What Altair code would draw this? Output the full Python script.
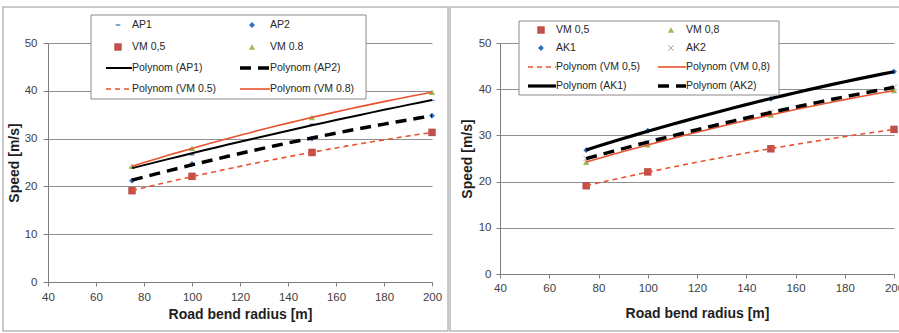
import altair as alt
import pandas as pd

# ---- data -------------------------------------------------------------
radius = [75, 100, 150, 200]

ap1 = [24.0, 26.6, 33.0, 38.0]
ap2 = [21.2, 24.7, 30.0, 34.8]
vm05 = [19.1, 22.1, 27.1, 31.3]
vm08 = [24.2, 28.0, 34.4, 39.7]
ak1 = [26.8, 31.0, 37.9, 43.8]
ak2 = [25.0, 28.5, 35.0, 40.4]

x_ticks = [40, 60, 80, 100, 120, 140, 160, 180, 200]
y_ticks = [0, 10, 20, 30, 40, 50]

x_title = "Road bend radius [m]"
y_title = "Speed [m/s]"

FONT = "Liberation Sans"
BLUE = "#2f6fba"
LIGHT_BLUE = "#4f81bd"
RED = "#c0504d"
GREEN = "#9bbb59"
GREY_X = "#a4a4bc"
TREND_RED = "#e8532f"

# marker styles per series
MARKERS = {
    "AP1": dict(shape="M-1,-0.3L1,-0.3L1,0.3L-1,0.3Z", filled=True, size=22, color=LIGHT_BLUE, opacity=1),
    "AP2": dict(shape="diamond", filled=True, size=34, color=BLUE, opacity=1),
    "AK1": dict(shape="diamond", filled=True, size=34, color=BLUE, opacity=1),
    "AK2": dict(shape="M-1,-1L1,1M-1,1L1,-1", filled=False, size=32, strokeWidth=1, color=GREY_X, opacity=1),
    "VM05": dict(shape="square", filled=True, size=56, color=RED, opacity=1),
    "VM08": dict(shape="triangle-up", filled=True, size=40, color=GREEN, opacity=1),
}

# trend line styles per series
LINES = {
    "AP1": dict(color="black", strokeWidth=2),
    "AP2": dict(color="black", strokeWidth=3.5, strokeDash=[11, 7]),
    "AK1": dict(color="black", strokeWidth=3.2),
    "AK2": dict(color="black", strokeWidth=3.5, strokeDash=[11, 7]),
    "VM05": dict(color=TREND_RED, strokeWidth=1.6, strokeDash=[5, 4]),
    "VM08": dict(color=TREND_RED, strokeWidth=1.6),
}


def one_row(**kw):
    return pd.DataFrame({k: [v] for k, v in kw.items()})


def panel(series, legend_rows, geom):
    w, h = geom["w"], geom["h"]
    df = pd.DataFrame({
        "radius": [r for _ in series for r in radius],
        "speed": [v for _, vals in series for v in vals],
        "series": [name for name, vals in series for _ in vals],
    })

    x_enc = alt.X(
        "radius:Q",
        scale=alt.Scale(domain=[40, 200], nice=False, zero=False),
        axis=alt.Axis(values=x_ticks, title=x_title, grid=False, labelFlush=False,
                      tickSize=4, labelPadding=geom["xlp"], titlePadding=geom["xtp"]),
    )
    y_enc = alt.Y(
        "speed:Q",
        scale=alt.Scale(domain=[0, 50], nice=False),
        axis=alt.Axis(values=y_ticks, title=y_title, grid=True, labelFlush=False,
                      tickSize=geom["yts"], labelPadding=geom["ylp"], titlePadding=geom["ytp"]),
    )

    layers = []
    fx0, fx1, fy0, fy1 = geom["frame"]
    layers.append(
        alt.Chart(one_row(k=0)).mark_rect(fill="transparent", stroke="#b9b9b9", strokeWidth=1.5)
        .encode(x=alt.value(fx0), x2=alt.value(fx1), y=alt.value(fy0), y2=alt.value(fy1))
    )

    base = alt.Chart(df)
    for name, _ in series:
        layers.append(
            base.transform_filter(alt.datum.series == name)
            .mark_point(**MARKERS[name]).encode(x=x_enc, y=y_enc)
        )
    for name, _ in series:
        layers.append(
            base.transform_filter(alt.datum.series == name)
            .transform_regression("radius", "speed", method="poly", order=2, extent=[75, 200])
            .mark_line(**LINES[name]).encode(x=x_enc, y=y_enc)
        )

    # legend box
    lx0, lx1, ly0, ly1 = geom["legend_box"]
    layers.append(
        alt.Chart(one_row(k=0)).mark_rect(fill="white", stroke="#8a8a8a", strokeWidth=1)
        .encode(x=alt.value(lx0), x2=alt.value(lx1), y=alt.value(ly0), y2=alt.value(ly1))
    )
    rows_y = geom["rows_y"]
    for ri, row in enumerate(legend_rows):
        for ci, (kind, name, label) in enumerate(row):
            col = geom["cols"][ci]
            yy = rows_y[ri]
            if kind == "marker":
                layers.append(
                    alt.Chart(one_row(k=0)).mark_point(**MARKERS[name])
                    .encode(x=alt.value(col["sym"]), y=alt.value(yy))
                )
            else:
                layers.append(
                    alt.Chart(one_row(k=0)).mark_rule(**LINES[name])
                    .encode(x=alt.value(col["l0"]), x2=alt.value(col["text"]), y=alt.value(yy))
                )
            layers.append(
                alt.Chart(one_row(label=label))
                .mark_text(align="left", baseline="middle", font=FONT, fontSize=10.5, color="#262626")
                .encode(x=alt.value(col["text"]), y=alt.value(yy), text="label:N")
            )

    return alt.layer(*layers).properties(width=w, height=h)


left_geom = dict(
    w=384, h=239, xlp=5, xtp=5, yts=5, ylp=6, ytp=3,
    frame=(-45, 400, -36, 288),
    legend_box=(43, 318, -28, 56),
    rows_y=[-18, 4, 25, 46],
    cols=[dict(sym=70, text=84, l0=58), dict(sym=204, text=222, l0=192)],
)
right_geom = dict(
    w=394, h=231, xlp=4, xtp=13, yts=4, ylp=5, ytp=4,
    frame=(-50, 412, -36, 288),
    legend_box=(19, 279, -22, 52),
    rows_y=[-13, 5, 24, 43],
    cols=[dict(sym=41, text=56, l0=28), dict(sym=171, text=186, l0=158)],
)

left = panel(
    [("AP1", ap1), ("AP2", ap2), ("VM05", vm05), ("VM08", vm08)],
    [
        [("marker", "AP1", "AP1"), ("marker", "AP2", "AP2")],
        [("marker", "VM05", "VM 0,5"), ("marker", "VM08", "VM 0.8")],
        [("line", "AP1", "Polynom (AP1)"), ("line", "AP2", "Polynom (AP2)")],
        [("line", "VM05", "Polynom (VM 0.5)"), ("line", "VM08", "Polynom (VM 0.8)")],
    ],
    left_geom,
)

right = panel(
    [("VM05", vm05), ("VM08", vm08), ("AK1", ak1), ("AK2", ak2)],
    [
        [("marker", "VM05", "VM 0,5"), ("marker", "VM08", "VM 0,8")],
        [("marker", "AK1", "AK1"), ("marker", "AK2", "AK2")],
        [("line", "VM05", "Polynom (VM 0,5)"), ("line", "VM08", "Polynom (VM 0,8)")],
        [("line", "AK1", "Polynom (AK1)"), ("line", "AK2", "Polynom (AK2)")],
    ],
    right_geom,
)

# fixed 899x333 canvas: the plot origin of the first panel sits at the
# padding corner, and the right panel runs past the edge and is cut off
chart = (
    alt.hconcat(left, right, spacing=0)
    .properties(
        autosize=alt.AutoSizeParams(type="none"),
        padding={"left": 48, "top": 43, "right": 851, "bottom": 290},
        background="white",
    )
    .configure_view(strokeWidth=0)
    .configure_axis(
        domainColor="#7f7f7f", domainWidth=1,
        tickColor="#7f7f7f", tickWidth=1,
        gridColor="#8f8f8f", gridWidth=1,
        labelFont=FONT, labelFontSize=11.5, labelColor="#404040",
        titleFont=FONT, titleFontSize=14, titleFontWeight="bold", titleColor="#1e1e1e",
    )
)

chart.save("out.html", embed_options={"renderer": "svg", "actions": False})
